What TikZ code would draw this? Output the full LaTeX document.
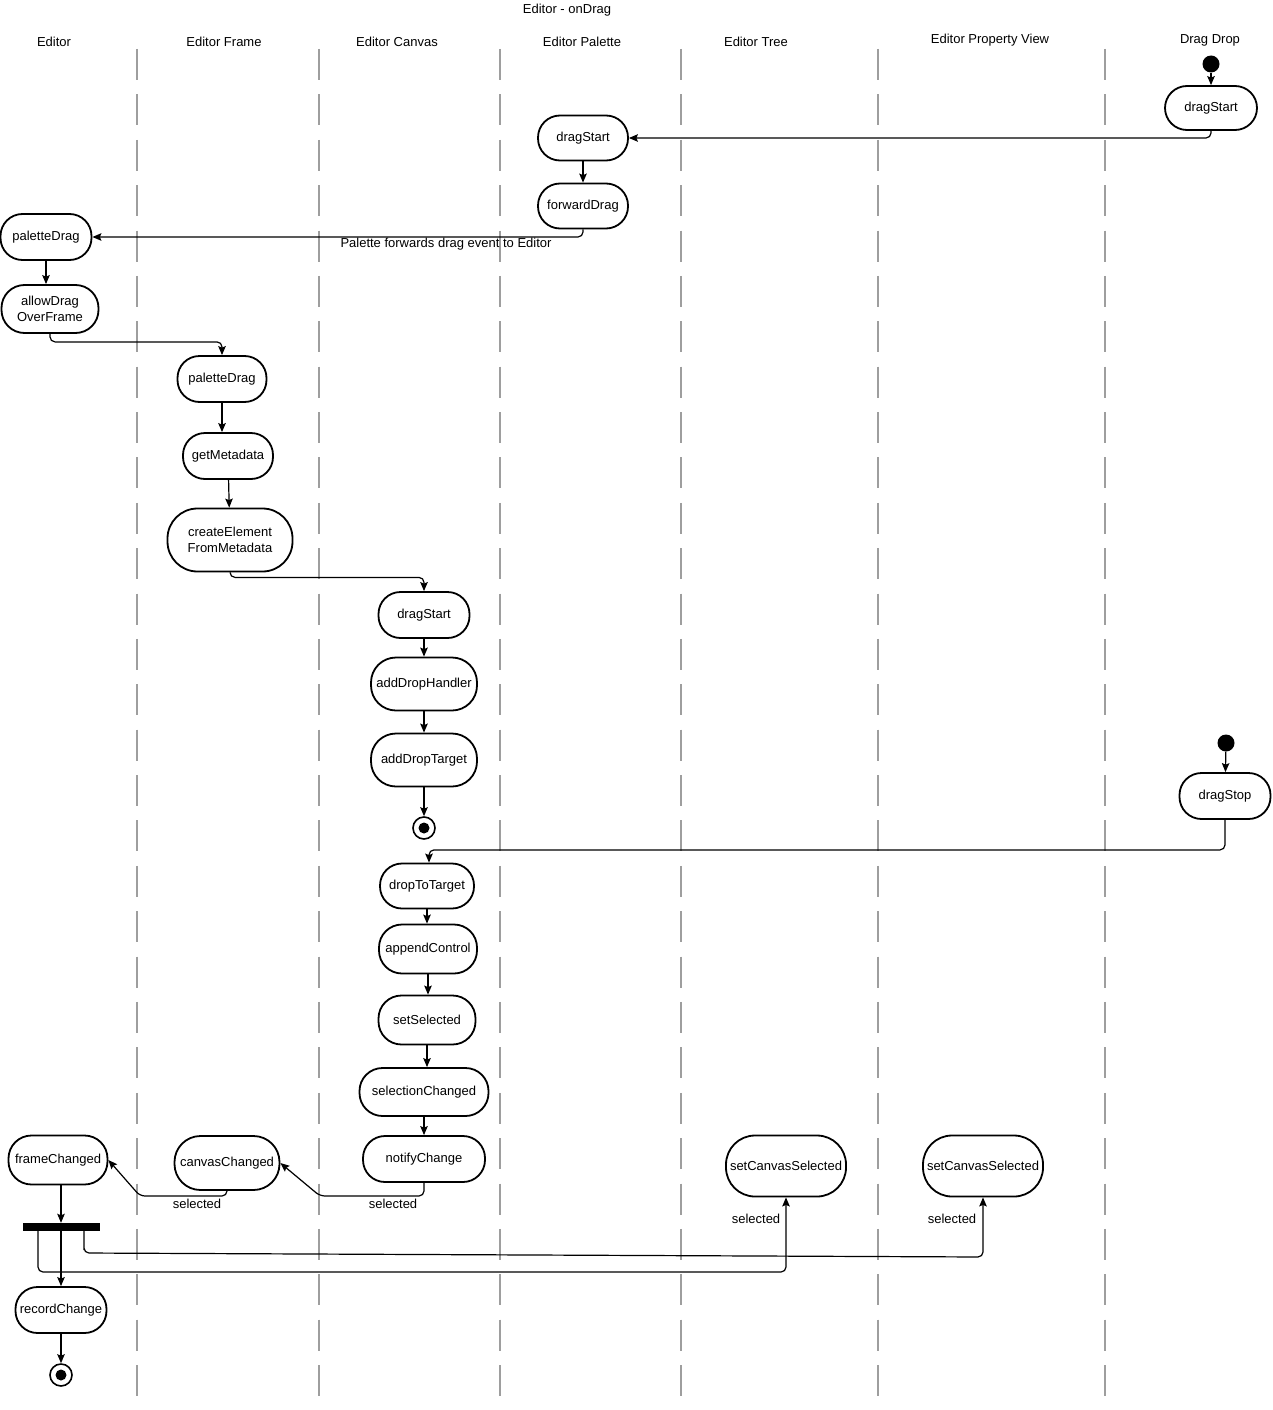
\documentclass[tikz,border=0pt]{standalone}
\usepackage{fontspec}
\setmainfont{Liberation Sans}
\usetikzlibrary{arrows.meta}
\begin{document}
\begin{tikzpicture}[x=1pt,y=-1pt,
  txt/.style={font=\fontsize{13}{16}\selectfont},
  act/.style={txt, draw, line width=1.8pt, rounded corners=#1, inner sep=0pt, align=center},
  act/.default=22pt,
  lbl/.style={txt, inner sep=0pt},
  arr/.style={line width=1.2pt, -{Stealth[length=9pt,width=7.5pt,inset=1.5pt]}, rounded corners=5pt},
  lane/.style={draw=black!38, line width=2pt, dash pattern=on 31pt off 14.38pt},
  startdot/.style={circle, fill=black, minimum size=17pt, inner sep=0pt},
  enddot/.style={circle, draw, line width=1.6pt, minimum size=22pt, inner sep=0pt,
    path picture={\fill[black] (path picture bounding box.center) circle (5.5pt);}},
  forkbar/.style={fill=black, minimum width=77pt, minimum height=8pt, inner sep=0pt},
]
\useasboundingbox (0,0) rectangle (1272,1410);
\fill[white] (0,0) rectangle (1272,1410);

% swimlane separators
\foreach \lx in {137,319,500,681,878,1105} {
  \draw[lane] (\lx,49) -- (\lx,1396);
}

% titles
\node[lbl] (title) at (567,10) {Editor - onDrag};
\node[lbl] (hEditor) at (54,42) {Editor};
\node[lbl] (hFrame) at (224,42) {Editor Frame};
\node[lbl] (hCanvas) at (397,42) {Editor Canvas};
\node[lbl] (hPalette) at (582,42) {Editor Palette};
\node[lbl] (hTree) at (756,42) {Editor Tree};
\node[lbl] (hProp) at (990,40) {Editor Property View};
\node[lbl] (hDD) at (1210,40) {Drag Drop};

% nodes
\node[startdot] (s1) at (1211,64) {};
\node[act, minimum width=92pt, minimum height=44pt] (ddStart) at (1211,108) {dragStart};
\node[act, minimum width=90pt, minimum height=45pt] (palStart) at (583,138) {dragStart};
\node[act, minimum width=90pt, minimum height=45pt] (fwd) at (583,206) {forwardDrag};
\node[act, minimum width=91pt, minimum height=46pt] (edPal) at (46,237) {paletteDrag};
\node[act=23pt, minimum width=97pt, minimum height=48pt] (allow) at (50,309) {allowDrag\\OverFrame};
\node[act, minimum width=89pt, minimum height=46pt] (frPal) at (222,379) {paletteDrag};
\node[act, minimum width=90pt, minimum height=46pt] (meta) at (228,456) {getMetadata};
\node[act=30pt, minimum width=125pt, minimum height=63pt] (create) at (230,540) {createElement\\FromMetadata};
\node[act, minimum width=91pt, minimum height=46pt] (cvStart) at (424,615) {dragStart};
\node[act=25pt, minimum width=106pt, minimum height=53pt] (handler) at (424,684) {addDropHandler};
\node[act=25pt, minimum width=106pt, minimum height=53pt] (target) at (424,760) {addDropTarget};
\node[enddot] (e1) at (424,828) {};
\node[startdot] (s2) at (1226,743) {};
\node[act, minimum width=91pt, minimum height=46pt] (stop) at (1225,796) {dragStop};
\node[act, minimum width=94pt, minimum height=45pt] (drop) at (427,886) {dropToTarget};
\node[act=23pt, minimum width=98pt, minimum height=49pt] (append) at (428,949) {appendControl};
\node[act=23pt, minimum width=97pt, minimum height=49pt] (setSel) at (427,1020) {setSelected};
\node[act=23pt, minimum width=129pt, minimum height=48pt] (selCh) at (424,1092) {selectionChanged};
\node[act, minimum width=122pt, minimum height=46pt] (notify) at (424,1159) {notifyChange};
\node[act=26pt, minimum width=105pt, minimum height=54pt] (canvasCh) at (227,1163) {canvasChanged};
\node[act=23pt, minimum width=99pt, minimum height=49pt] (frameCh) at (58,1160) {frameChanged};
\node[forkbar] (fork) at (61,1227) {};
\node[act, minimum width=91pt, minimum height=46pt] (rec) at (61,1310) {recordChange};
\node[enddot] (e2) at (61,1375) {};
\node[act=29pt, minimum width=120pt, minimum height=61pt] (tree) at (786,1166) {setCanvasSelected};
\node[act=29pt, minimum width=120pt, minimum height=61pt] (pv) at (983,1166) {setCanvasSelected};

% helper coordinates
\coordinate (k1) at (320,1196);
\coordinate (k2) at (140,1196);
\coordinate (t1) at (786,1272);
\coordinate (p0) at (84,1253);
\coordinate (p1) at (983,1257);

% connectors
\draw[arr] (s1) -- (ddStart);
\draw[arr] (ddStart.south) |- (palStart.east);
\draw[arr] (palStart) -- (fwd);
\draw[arr] (fwd.south) |- (edPal.east);
\node[lbl] (lblFwd) at (446,244) {Palette forwards drag event to Editor};
\draw[arr] (edPal.south) -- (edPal.south |- allow.north);
\draw[arr] (allow.south) -- ++(0,8) -| (frPal.north);
\draw[arr] (frPal.south) -- (frPal.south |- meta.north);
\draw[arr] (meta) -- (create);
\draw[arr] (create.south) -- ++(0,5) -| (cvStart.north);
\draw[arr] (cvStart) -- (handler);
\draw[arr] (handler) -- (target);
\draw[arr] (target) -- (e1);
\draw[arr] (s2) -- (stop);
\draw[arr] (stop.south) -- ++(0,30) -| ([xshift=2pt]drop.north);
\draw[arr] (drop.south) -- (drop.south |- append.north);
\draw[arr] (append.south) -- (append.south |- setSel.north);
\draw[arr] (setSel.south) -- (setSel.south |- selCh.north);
\draw[arr] (selCh.south) -- (selCh.south |- notify.north);
\draw[arr] (notify.south) |- (k1) -- (canvasCh.east);
\node[lbl] (lblSel1) at (393,1204) {selected};
\draw[arr] (canvasCh.south) |- (k2) -- (frameCh.east);
\node[lbl] (lblSel2) at (197,1204) {selected};
\draw[arr] (frameCh.south -| fork.north) -- (fork.north);
\draw[arr] (fork.south) -- (rec.north);
\draw[arr] ([xshift=-23pt]fork.south) |- (t1) -- (tree.south);
\node[lbl] (lblSel3) at (756,1219) {selected};
\draw[arr] ([xshift=23pt]fork.south) |- (p0) -- (p1) -- (pv.south);
\node[lbl] (lblSel4) at (952,1219) {selected};
\draw[arr] (rec) -- (e2);
\end{tikzpicture}
\end{document}
